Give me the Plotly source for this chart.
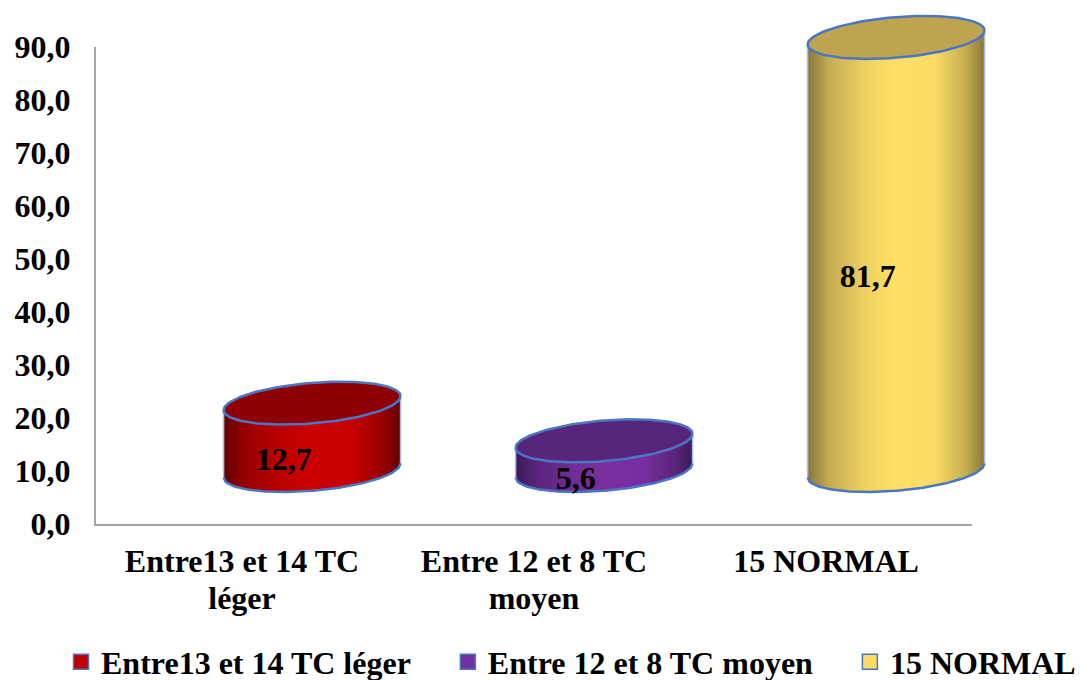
import numpy as np
import plotly.graph_objects as go

# Chart values
categories = ["Entre13 et 14 TC léger", "Entre 12 et 8 TC moyen", "15 NORMAL"]
axis_labels = ["Entre13 et 14 TC", "Entre 12 et 8 TC", "15 NORMAL"]
axis_sublabels = ["léger", "moyen", ""]
values = [12.7, 5.6, 81.7]
y_ticks = [0, 10, 20, 30, 40, 50, 60, 70, 80, 90]

# Colours for each cylinder: lit side, shadowed edge, top face
lit = [(204, 0, 0), (122, 48, 160), (255, 224, 102)]
shade = [(100, 0, 0), (60, 26, 88), (135, 118, 60)]
top_face = ["#8F0000", "#57267A", "#BFA44F"]
legend_fill = ["#C00000", "#7030A0", "#FFD966"]
OUTLINE = "#4A76C4"
SERIF = "Liberation Serif"

# Figure and axes geometry in pixels
WIDTH, HEIGHT = 1080, 680
AXIS_LEFT, AXIS_RIGHT, AXIS_TOP, AXIS_BOTTOM = 96, 972, 47, 524
PX_PER_CATEGORY = (AXIS_RIGHT - AXIS_LEFT) / 3
PX_PER_UNIT = (AXIS_BOTTOM - AXIS_TOP) / 90

# Oblique projection of the cylinders, in axis units
DEPTH_X = 0.24
DEPTH_Y = 10.1
RADIUS_X = 0.303
RADIUS_Y = 3.83
TILT = 1.32
STRIPS = 88

# Horizontal shading across the curved wall: position, amount of lit colour
shade_pos = [0, 0.12, 0.33, 0.5, 0.72, 0.9, 1]
shade_amt = [0, 0.5, 0.86, 1, 0.96, 0.5, 0]


def mix(a, b, t):
    r, g, bl = (int(round(p + (q - p) * t)) for p, q in zip(a, b))
    return f"rgb({r},{g},{bl})"


def front_arc(u, base):
    """Lower (front) edge of an ellipse at horizontal position u in [-1, 1]."""
    return base - RADIUS_Y * np.sqrt(np.clip(1 - u * u, 0, 1)) + TILT * u


# The cylinders live on a full-figure subplot sharing the scale of the visible
# axes, so that they can rise past the top of the value axis.
OVER = dict(xaxis="x2", yaxis="y2", hoverinfo="skip", showlegend=False)
BOLD = dict(family=SERIF, size=32, color="black", weight="bold")

fig = go.Figure()

for i, value in enumerate(values):
    cx = i + DEPTH_X
    bottom, top = DEPTH_Y, DEPTH_Y + value

    # Curved wall, painted left to right; each strip runs under the next one
    edges = np.linspace(-1, 1, STRIPS + 1)
    for left, right in zip(edges[:-1], edges[1:]):
        reach = min(right + 2 / STRIPS, 1.0)
        us = np.linspace(left, reach, 4)
        xs = cx + RADIUS_X * us
        low = front_arc(us, bottom)
        high = front_arc(us, top)
        mid = (left + right) / 4 + 0.5
        colour = mix(shade[i], lit[i], float(np.interp(mid, shade_pos, shade_amt)))
        fig.add_trace(go.Scatter(
            x=np.concatenate([xs, xs[::-1]]),
            y=np.concatenate([low, high[::-1]]),
            mode="lines", fill="toself", fillcolor=colour,
            line=dict(color=colour, width=0), **OVER,
        ))

    # Pale side edges and the blue rim under the wall
    for side in (-1, 1):
        fig.add_trace(go.Scatter(
            x=[cx + side * RADIUS_X] * 2,
            y=[bottom + side * TILT, top + side * TILT],
            mode="lines", line=dict(color="#A9BEE4", width=1.5), **OVER,
        ))
    us = np.linspace(-1, 1, 90)
    fig.add_trace(go.Scatter(
        x=cx + RADIUS_X * us, y=front_arc(us, bottom),
        mode="lines", line=dict(color=OUTLINE, width=2.5), **OVER,
    ))

    # Top face
    t = np.linspace(0, 2 * np.pi, 160)
    fig.add_trace(go.Scatter(
        x=cx + RADIUS_X * np.cos(t),
        y=top + RADIUS_Y * np.sin(t) + TILT * np.cos(t),
        mode="lines", fill="toself", fillcolor=top_face[i],
        line=dict(color=OUTLINE, width=2.5), **OVER,
    ))

# Value labels on the cylinder walls
fig.add_trace(go.Scatter(
    x=[i + DEPTH_X - 0.097 for i in range(len(values))],
    y=[v / 2 + 5.4 for v in values],
    text=[f"{v:.1f}".replace(".", ",") for v in values],
    mode="text", textfont=BOLD, **OVER,
))

# Second line of the category labels, set tighter than the tick label leading
fig.add_trace(go.Scatter(
    x=list(range(len(values))),
    y=[-(601 - AXIS_BOTTOM) / PX_PER_UNIT] * len(values),
    text=axis_sublabels,
    mode="text", textfont=BOLD, **OVER,
))

# Legend entries, spaced apart with trailing blanks
for k, (name, colour) in enumerate(zip(categories, legend_fill)):
    blanks = "\u00a0" * 4 if k < len(categories) - 1 else ""
    fig.add_trace(go.Scatter(
        x=[None], y=[None], name=name + blanks, mode="markers",
        marker=dict(symbol="square", size=15, color=colour,
                    line=dict(color=OUTLINE, width=1.5)),
    ))

fig.update_layout(
    width=WIDTH, height=HEIGHT, autosize=False,
    margin=dict(l=0, r=0, t=0, b=0, autoexpand=False),
    paper_bgcolor="white", plot_bgcolor="rgba(0,0,0,0)",
    font=dict(family=SERIF, color="black"),
    showlegend=True,
    legend=dict(
        orientation="h", x=61 / WIDTH, xanchor="left",
        y=(HEIGHT - 662) / HEIGHT, yanchor="middle",
        font=BOLD, bgcolor="rgba(0,0,0,0)", itemwidth=30,
    ),
    xaxis=dict(
        domain=[AXIS_LEFT / WIDTH, AXIS_RIGHT / WIDTH],
        range=[-0.5, 2.5], tickmode="array", tickvals=list(range(len(values))),
        ticktext=axis_labels, ticks="", showgrid=False, zeroline=False,
        showline=True, linecolor="#A6A6A6", linewidth=2, automargin=False,
        ticklabelstandoff=8, tickfont=BOLD,
    ),
    yaxis=dict(
        domain=[(HEIGHT - AXIS_BOTTOM) / HEIGHT, (HEIGHT - AXIS_TOP) / HEIGHT],
        range=[0, 90], tickmode="array", tickvals=y_ticks,
        ticktext=[f"{v:.1f}".replace(".", ",") for v in y_ticks],
        ticks="", showgrid=False, zeroline=False, ticklabelstandoff=17,
        showline=True, linecolor="#A6A6A6", linewidth=2, automargin=False,
        tickfont=BOLD,
    ),
    xaxis2=dict(
        domain=[0, 1], anchor="y2", visible=False,
        range=[-0.5 - AXIS_LEFT / PX_PER_CATEGORY,
               -0.5 + (WIDTH - AXIS_LEFT) / PX_PER_CATEGORY],
    ),
    yaxis2=dict(
        domain=[0, 1], anchor="x2", visible=False,
        range=[-(HEIGHT - AXIS_BOTTOM) / PX_PER_UNIT, AXIS_BOTTOM / PX_PER_UNIT],
    ),
)

fig.write_html("out.html", config=dict(displayModeBar=False))
